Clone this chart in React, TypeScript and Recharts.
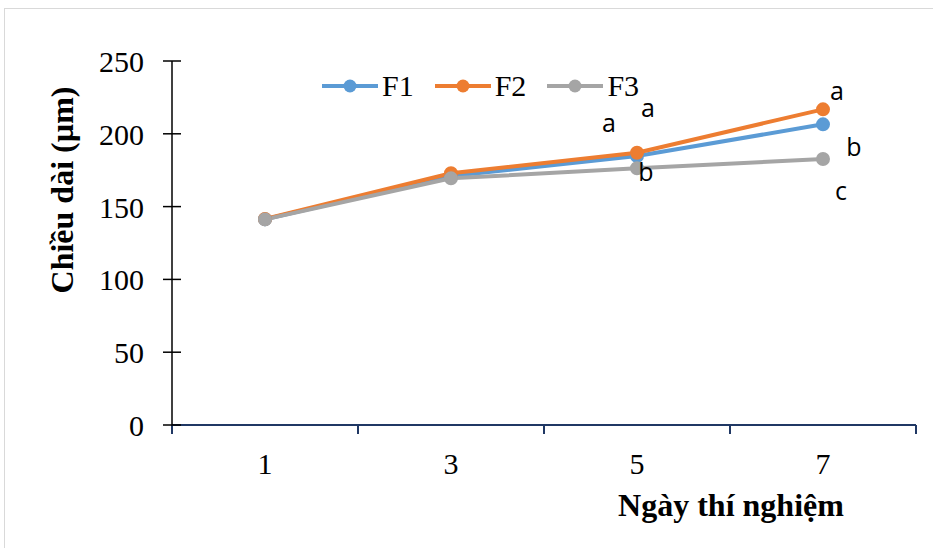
import React from "react"
import { LineChart, Line, XAxis, YAxis, Legend, LabelList, Label } from "recharts"

// days of the experiment (x categories)
const DAYS = ["1", "3", "5", "7"]

// length (µm) per formula
const F1_VALUES = [141.3, 171.0, 184.8, 206.5]
const F2_VALUES = [141.5, 172.9, 187.0, 216.8]
const F3_VALUES = [141.2, 169.4, 176.3, 182.7]

// significance letters
const F1_SIG = ["", "", "a", "b"]
const F2_SIG = ["", "", "a", "a"]
const F3_SIG = ["", "", "b", "c"]

const Y_TICKS = [0, 50, 100, 150, 200, 250]

const AXIS_BLUE = "#203864"
const SERIF = "'Liberation Serif', 'Times New Roman', serif"
const SANS = "'Open Sans', Calibri, sans-serif"

// hand-placed label offsets (like dragged Excel data labels), dx/dy from the point
const LABEL_OFFSETS: Record<string, [number, number][]> = {
 F1: [[0, 0], [0, 0], [-28, -24], [31, 32]],
 F2: [[0, 0], [0, 0], [11, -36], [14, -9]],
 F3: [[0, 0], [0, 0], [9, 13], [18, 41]],
}

const SERIES = [
 { key: "F1", color: "#5B9BD5", values: F1_VALUES, sig: F1_SIG },
 { key: "F2", color: "#ED7D31", values: F2_VALUES, sig: F2_SIG },
 { key: "F3", color: "#A5A5A5", values: F3_VALUES, sig: F3_SIG },
]

const data = DAYS.map((day, i) => {
 const row: Record<string, string | number> = { day, pos: i + 0.5 }
 SERIES.forEach((s) => {
 row[s.key] = s.values[i]
 row[s.key + "sig"] = s.sig[i]
 })
 return row
})

// boundaries get tick marks, centers get the day labels
const X_TICKS = [
 ...DAYS.map((_, i) => i),
 DAYS.length,
 ...DAYS.map((_, i) => i + 0.5),
].sort((a, b) => a - b)

function XTick({ x, y, payload }: any) {
 const v = payload.value as number
 if (Number.isInteger(v)) {
 return <line x1={x} x2={x} y1={y} y2={y + 9} stroke={AXIS_BLUE} strokeWidth={2} />
 }
 return (
 <text x={x} y={y + 49} textAnchor="middle" fontFamily={SERIF} fontSize={30} fill="#000">
 {DAYS[Math.floor(v)]}
 </text>
 )
}

function YTick({ x, y, payload }: any) {
 return (
 <g>
 <line x1={x - 9} x2={x + 9} y1={y} y2={y} stroke="#000" strokeWidth={1.5} />
 <text x={x - 28} y={y + 11} textAnchor="end" fontFamily={SERIF} fontSize={30} fill="#000">
 {payload.value}
 </text>
 </g>
 )
}

function makeSigLabel(key: string) {
 return (props: any) => {
 const { x, y, value, index } = props
 if (!value) return null
 const [dx, dy] = LABEL_OFFSETS[key][index]
 return (
 <text x={x + dx} y={y + dy} textAnchor="middle" fontFamily={SANS} fontSize={25} fill="#000">
 {value}
 </text>
 )
 }
}

function LegendContent() {
 return (
 <div style={{ display: "flex", alignItems: "center" }}>
 {SERIES.map((s) => (
 <div key={s.key} style={{ display: "flex", alignItems: "center", marginRight: 21 }}>
 <svg width={56} height={16}>
 <line x1={0} x2={56} y1={8} y2={8} stroke={s.color} strokeWidth={4} />
 <circle cx={28} cy={8} r={6.5} fill={s.color} />
 </svg>
 <span style={{ fontFamily: SERIF, fontSize: 30, marginLeft: 4, lineHeight: "40px", color: "#000" }}>
 {s.key}
 </span>
 </div>
 ))}
 </div>
 )
}

export default function App() {
 return (
 <div
 style={{
 position: "absolute",
 left: 0,
 top: 0,
 width: 933,
 height: 548,
 overflow: "hidden",
 background: "#fff",
 }}
 >
 <div
 style={{
 position: "absolute",
 left: 4,
 top: 8,
 width: 960,
 height: 580,
 borderTop: "1.5px solid #D9D9D9",
 borderLeft: "1.5px solid #D9D9D9",
 }}
 />
 <LineChart
 width={933}
 height={548}
 data={data}
 margin={{ top: 61, right: 17, bottom: 43, left: 72 }}
 style={{ position: "absolute", left: 0, top: 0 }}
 >
 <XAxis
 dataKey="pos"
 type="number"
 domain={[0, DAYS.length]}
 ticks={X_TICKS}
 interval={0}
 height={80}
 axisLine={{ stroke: AXIS_BLUE, strokeWidth: 2 }}
 tickLine={false}
 tickSize={0}
 tickMargin={0}
 tick={<XTick />}
 >
 <Label
 content={({ viewBox }: any) => (
 <text
 x={viewBox.x + 559}
 y={viewBox.y + 91}
 textAnchor="middle"
 fontFamily={SERIF}
 fontSize={32}
 fontWeight="bold"
 fill="#000"
 >
 Ngày thí nghiệm
 </text>
 )}
 />
 </XAxis>
 <YAxis
 type="number"
 domain={[0, 250]}
 ticks={Y_TICKS}
 interval={0}
 width={100}
 axisLine={{ stroke: "#000", strokeWidth: 1.5 }}
 tickLine={false}
 tickSize={0}
 tickMargin={0}
 tick={<YTick />}
 >
 <Label
 content={({ viewBox }: any) => {
 const cx = viewBox.x - 10
 const cy = viewBox.y + 129
 return (
 <text
 x={cx}
 y={cy}
 transform={`rotate(-90 ${cx} ${cy})`}
 textAnchor="middle"
 dominantBaseline="central"
 fontFamily={SERIF}
 fontSize={32}
 fontWeight="bold"
 fill="#000"
 >
 Chiều dài (µm)
 </text>
 )
 }}
 />
 </YAxis>
 <Legend
 verticalAlign="middle"
 layout="horizontal"
 wrapperStyle={{ top: 66, left: 322, width: 420, height: 40 }}
 content={<LegendContent />}
 />
 {SERIES.map((s) => (
 <Line
 key={s.key}
 dataKey={s.key}
 name={s.key}
 stroke={s.color}
 strokeWidth={4}
 dot={{ r: 6, fill: s.color, stroke: s.color, strokeWidth: 2 }}
 activeDot={false}
 isAnimationActive={false}
 >
 <LabelList dataKey={s.key + "sig"} content={makeSigLabel(s.key)} />
 </Line>
 ))}
 </LineChart>
 </div>
 )
}
